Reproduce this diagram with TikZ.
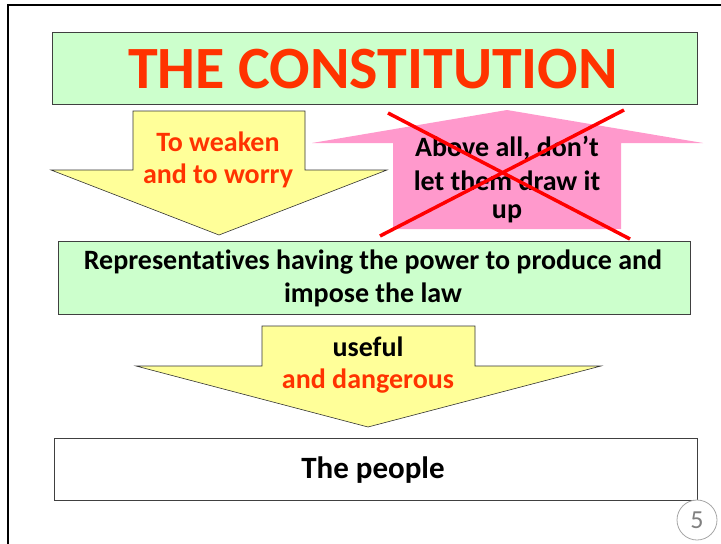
\documentclass[tikz,border=0pt]{standalone}
\usepackage{fontspec}
\setmainfont[Ligatures=NoCommon]{Carlito}
\definecolor{boxgreen}{HTML}{CCFFCC}
\definecolor{arrowyellow}{HTML}{FFFF99}
\definecolor{arrowpink}{HTML}{FF99CC}
\definecolor{textred}{HTML}{FF3300}
\definecolor{crossred}{HTML}{FF0000}
\definecolor{pagegray}{HTML}{808080}
\tikzset{
  greenbox/.style={draw=black!75, fill=boxgreen, line width=0.8pt},
  whitebox/.style={draw=black!75, fill=white, line width=0.8pt},
  yarrow/.style={draw=black!80, fill=arrowyellow, line width=0.6pt},
  parrow/.style={fill=arrowpink},
  crossline/.style={draw=crossred, line width=3.5pt},
  lbl/.style={font=\bfseries\fontsize{28}{33}\selectfont, align=center, inner sep=0pt},
}
\begin{document}
\begin{tikzpicture}[x=1pt,y=-1pt]
\useasboundingbox (0,0) rectangle (721,544);
% page frame
\draw[line width=2pt] (8,560) -- (8,5) -- (730,5);
% title box
\draw[greenbox] (52,32) rectangle (697,104);
\node[font=\bfseries\fontsize{60}{64}\selectfont, text=textred, inner sep=0pt] (title) at (373,69) {THE CONSTITUTION};
% pink up arrow
\fill[parrow] (393,229) -- (393,143) -- (312,143) -- (507,110) -- (703,143) -- (621,143) -- (621,229) -- cycle;
\node[lbl] (above1) at (507,148) {Above all, don’t};
\node[lbl] (above2) at (507,181) {let them draw it};
\node[lbl] (above3) at (507,214) {up};
% red cross
\draw[crossline] (388,113) -- (630,239);
\draw[crossline] (624,110) -- (380,236);
% yellow down arrow 1
\draw[yarrow] (133,111) -- (305,111) -- (305,170) -- (387,170) -- (219,235) -- (51,170) -- (133,170) -- cycle;
\node[lbl, text=textred] (weaken1) at (218,142) {To weaken};
\node[lbl, text=textred] (weaken2) at (218,176) {and to worry};
% representatives box
\draw[greenbox] (58,241) rectangle (690,314);
\node[lbl] (rep1) at (373,262) {Representatives having the power to produce and};
\node[lbl] (rep2) at (373,295) {impose the law};
% yellow down arrow 2
\draw[yarrow] (262,326) -- (475,326) -- (475,366) -- (601,366) -- (368,427) -- (136,366) -- (262,366) -- cycle;
\node[lbl] (useful) at (368,347) {useful};
\node[lbl, text=textred] (dangerous) at (368,381) {and dangerous};
% people box
\draw[whitebox] (54,438) rectangle (697,500);
\node[font=\bfseries\fontsize{31}{34}\selectfont, inner sep=0pt] (people) at (373,470) {The people};
% page number
\draw[pagegray!70, line width=0.8pt, fill=white] (697,520) circle (20);
\node[font=\fontsize{26}{28}\selectfont, text=pagegray, inner sep=0pt] (pagenum) at (697,520) {5};
\end{tikzpicture}
\end{document}
